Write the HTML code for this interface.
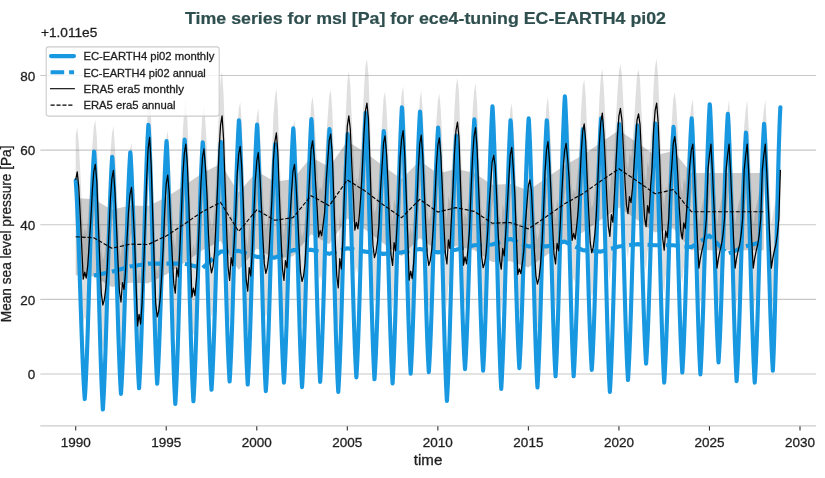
<!DOCTYPE html>
<html><head><meta charset="utf-8"><title>Time series msl</title>
<style>
html,body{margin:0;padding:0;background:#fff;}
body{width:825px;height:478px;overflow:hidden;position:relative;}
svg{position:absolute;left:0;top:0;display:block;will-change:transform;}
text{font-family:"Liberation Sans",sans-serif;fill:#1f1f1f;stroke:#1f1f1f;stroke-width:0.3px;}
#ttl{stroke:#2f4f4f;stroke-width:0.2px;}
</style></head><body>
<svg width="825" height="478" viewBox="0 0 825 478">
<rect width="825" height="478" fill="#fff"/>
<g stroke="#c8c8c8" stroke-width="1.1"><line x1="40.3" x2="816" y1="374.06" y2="374.06"/><line x1="40.3" x2="816" y1="299.41" y2="299.41"/><line x1="40.3" x2="816" y1="224.76" y2="224.76"/><line x1="40.3" x2="816" y1="150.11" y2="150.11"/><line x1="40.3" x2="816" y1="75.46" y2="75.46"/></g>
<path d="M75.70,135.55 L77.21,127.34 L78.72,141.92 L80.23,170.21 L81.74,202.29 L83.24,234.80 L84.75,227.83 L86.26,233.64 L87.77,220.87 L89.28,198.18 L90.79,175.93 L92.30,146.50 L93.81,126.84 L95.32,119.88 L96.83,137.32 L98.33,179.22 L99.84,216.97 L101.35,249.33 L102.86,260.59 L104.37,255.20 L105.88,243.08 L107.39,221.40 L108.90,189.27 L110.41,154.00 L111.92,133.93 L113.42,125.85 L114.93,146.92 L116.44,180.46 L117.95,216.76 L119.46,247.07 L120.97,257.61 L122.48,238.13 L123.99,245.00 L125.50,228.35 L127.00,195.02 L128.51,167.50 L130.02,149.89 L131.53,143.02 L133.04,165.71 L134.55,194.48 L136.06,239.85 L137.57,281.46 L139.08,270.04 L140.59,279.55 L142.09,258.61 L143.60,223.65 L145.11,182.88 L146.62,135.66 L148.13,104.42 L149.64,93.00 L151.15,119.67 L152.66,169.52 L154.17,216.88 L155.67,258.17 L157.18,272.54 L158.69,266.86 L160.20,254.10 L161.71,231.13 L163.22,203.06 L164.73,166.33 L166.24,139.21 L167.75,130.70 L169.26,148.54 L170.76,182.44 L172.27,212.08 L173.78,239.21 L175.29,248.65 L176.80,223.33 L178.31,232.27 L179.82,205.81 L181.33,171.78 L182.84,130.65 L184.35,108.66 L185.85,99.72 L187.36,119.62 L188.87,160.17 L190.38,206.34 L191.89,252.75 L193.40,243.77 L194.91,251.25 L196.42,234.79 L197.93,210.84 L199.43,174.84 L200.94,139.41 L202.45,113.55 L203.96,104.57 L205.47,122.84 L206.98,149.31 L208.49,190.08 L210.00,218.58 L211.51,228.49 L213.02,222.21 L214.52,208.06 L216.03,178.11 L217.54,143.48 L219.05,105.48 L220.56,80.78 L222.07,71.35 L223.58,94.55 L225.09,139.82 L226.60,184.93 L228.10,222.79 L229.61,235.96 L231.12,213.18 L232.63,221.22 L234.14,199.15 L235.65,170.45 L237.16,130.20 L238.67,110.00 L240.18,101.96 L241.69,121.75 L243.19,156.53 L244.70,201.89 L246.21,235.20 L247.72,246.78 L249.23,223.24 L250.74,231.55 L252.25,207.73 L253.76,170.33 L255.27,136.78 L256.78,116.61 L258.28,108.31 L259.79,128.83 L261.30,159.35 L262.81,191.49 L264.32,219.22 L265.83,228.87 L267.34,223.25 L268.85,210.62 L270.36,184.19 L271.86,156.18 L273.37,116.14 L274.88,96.94 L276.39,88.52 L277.90,108.69 L279.41,151.64 L280.92,190.25 L282.43,224.16 L283.94,235.96 L285.45,216.22 L286.95,223.19 L288.46,201.04 L289.97,172.89 L291.48,148.81 L292.99,126.84 L294.50,119.88 L296.01,139.12 L297.52,168.38 L299.03,200.75 L300.53,227.70 L302.04,237.08 L303.55,231.45 L305.06,218.78 L306.57,191.77 L308.08,161.40 L309.59,132.43 L311.10,104.80 L312.61,96.36 L314.12,111.44 L315.62,139.05 L317.13,163.32 L318.64,192.37 L320.15,186.14 L321.66,191.33 L323.17,179.92 L324.68,167.59 L326.19,136.57 L327.70,116.64 L329.21,95.87 L330.71,89.64 L332.22,109.06 L333.73,151.67 L335.24,195.75 L336.75,231.12 L338.26,243.42 L339.77,214.17 L341.28,224.49 L342.79,196.52 L344.29,151.70 L345.80,114.51 L347.31,81.68 L348.82,71.35 L350.33,85.00 L351.84,121.36 L353.35,151.19 L354.86,185.78 L356.37,178.07 L357.88,184.49 L359.38,170.37 L360.89,150.60 L362.40,123.08 L363.91,90.43 L365.42,66.37 L366.93,58.66 L368.44,74.18 L369.95,117.53 L371.46,165.29 L372.96,200.83 L374.47,213.19 L375.98,208.32 L377.49,197.37 L379.00,179.80 L380.51,146.18 L382.02,122.30 L383.53,98.81 L385.04,91.51 L386.55,109.37 L388.05,139.88 L389.56,180.88 L391.07,210.67 L392.58,221.03 L394.09,198.12 L395.60,206.21 L397.11,180.58 L398.62,154.84 L400.13,112.53 L401.64,94.37 L403.14,86.28 L404.65,108.67 L406.16,148.95 L407.67,190.33 L409.18,235.61 L410.69,226.84 L412.20,234.15 L413.71,218.06 L415.22,192.00 L416.72,162.65 L418.23,126.39 L419.74,99.54 L421.25,90.76 L422.76,111.84 L424.27,146.85 L425.78,180.65 L427.29,210.61 L428.80,221.03 L430.31,215.92 L431.81,204.43 L433.32,183.21 L434.83,157.14 L436.34,121.75 L437.85,101.04 L439.36,93.38 L440.87,111.02 L442.38,144.29 L443.89,180.43 L445.39,209.44 L446.90,219.53 L448.41,195.42 L449.92,203.93 L451.43,173.95 L452.94,145.94 L454.45,109.60 L455.96,86.21 L457.47,77.70 L458.98,92.92 L460.48,138.56 L461.99,177.37 L463.50,220.76 L465.01,212.43 L466.52,219.37 L468.03,204.10 L469.54,185.24 L471.05,145.98 L472.56,112.15 L474.06,91.63 L475.57,83.30 L477.08,103.93 L478.59,142.30 L480.10,179.88 L481.61,212.07 L483.12,223.27 L484.63,218.77 L486.14,208.66 L487.65,188.36 L489.15,160.57 L490.66,139.70 L492.17,117.66 L493.68,110.92 L495.19,121.35 L496.70,152.75 L498.21,189.47 L499.72,215.65 L501.23,224.76 L502.74,204.07 L504.24,211.38 L505.75,188.47 L507.26,162.25 L508.77,134.91 L510.28,110.38 L511.79,103.08 L513.30,124.20 L514.81,149.80 L516.32,191.42 L517.82,230.15 L519.33,224.42 L520.84,229.19 L522.35,218.68 L523.86,205.93 L525.37,179.43 L526.88,159.89 L528.39,141.29 L529.90,135.55 L531.41,145.95 L532.91,176.27 L534.42,207.41 L535.93,231.36 L537.44,239.69 L538.95,233.99 L540.46,221.15 L541.97,200.35 L543.48,168.70 L544.99,127.76 L546.50,105.66 L548.00,97.11 L549.51,117.21 L551.02,148.71 L552.53,181.58 L554.04,209.74 L555.55,219.53 L557.06,199.04 L558.57,206.27 L560.08,184.00 L561.58,153.42 L563.09,125.59 L564.60,106.21 L566.11,98.97 L567.62,113.87 L569.13,134.19 L570.64,166.71 L572.15,195.96 L573.66,188.91 L575.17,194.79 L576.67,181.85 L578.18,165.92 L579.69,140.69 L581.20,108.85 L582.71,86.62 L584.22,79.57 L585.73,96.83 L587.24,135.34 L588.75,168.42 L590.25,198.04 L591.76,208.34 L593.27,202.75 L594.78,190.19 L596.29,171.00 L597.80,137.02 L599.31,100.15 L600.82,77.12 L602.33,68.74 L603.84,88.33 L605.34,119.35 L606.85,153.73 L608.36,182.06 L609.87,191.91 L611.38,170.15 L612.89,177.83 L614.40,150.99 L615.91,120.68 L617.42,91.81 L618.93,71.57 L620.43,63.89 L621.94,75.72 L623.45,105.17 L624.96,136.52 L626.47,160.73 L627.98,169.15 L629.49,152.20 L631.00,158.18 L632.51,143.74 L634.01,121.84 L635.52,97.09 L637.03,75.47 L638.54,69.49 L640.05,80.16 L641.56,112.63 L643.07,147.27 L644.58,173.19 L646.09,182.21 L647.60,161.21 L649.10,168.62 L650.61,141.89 L652.12,122.61 L653.63,85.76 L655.14,66.08 L656.65,58.66 L658.16,77.95 L659.67,115.25 L661.18,160.14 L662.68,193.96 L664.19,205.72 L665.70,186.43 L667.21,193.24 L668.72,174.58 L670.23,141.87 L671.74,122.48 L673.25,99.06 L674.76,92.26 L676.27,105.10 L677.77,130.86 L679.28,162.82 L680.79,186.35 L682.30,194.53 L683.81,178.41 L685.32,184.10 L686.83,163.15 L688.34,142.93 L689.85,119.55 L691.36,105.41 L692.86,99.72 L694.37,128.22 L695.88,161.68 L697.39,195.14 L698.90,223.64 L700.41,213.73 L701.92,206.29 L703.43,200.10 L704.94,190.18 L706.44,174.07 L707.95,125.74 L709.46,110.87 L710.97,99.72 L712.48,128.22 L713.99,161.68 L715.50,195.14 L717.01,223.64 L718.52,213.73 L720.03,206.29 L721.53,200.10 L723.04,190.18 L724.55,174.07 L726.06,125.74 L727.57,110.87 L729.08,99.72 L730.59,128.22 L732.10,161.68 L733.61,195.14 L735.11,223.64 L736.62,213.73 L738.13,206.29 L739.64,200.10 L741.15,190.18 L742.66,174.07 L744.17,125.74 L745.68,110.87 L747.19,99.72 L748.70,128.22 L750.20,161.68 L751.71,195.14 L753.22,223.64 L754.73,213.73 L756.24,206.29 L757.75,200.10 L759.26,190.18 L760.77,174.07 L762.28,125.74 L763.79,110.87 L765.29,99.72 L766.80,128.22 L768.31,161.68 L769.82,195.14 L771.33,223.64 L772.84,213.73 L774.35,206.29 L775.86,200.10 L777.37,190.18 L778.87,174.07 L780.38,125.48 L780.38,214.31 L778.87,262.91 L777.37,279.02 L775.86,288.93 L774.35,295.13 L772.84,302.56 L771.33,312.47 L769.82,283.97 L768.31,250.51 L766.80,217.06 L765.29,188.55 L763.79,199.71 L762.28,214.58 L760.77,262.91 L759.26,279.02 L757.75,288.93 L756.24,295.13 L754.73,302.56 L753.22,312.47 L751.71,283.97 L750.20,250.51 L748.70,217.06 L747.19,188.55 L745.68,199.71 L744.17,214.58 L742.66,262.91 L741.15,279.02 L739.64,288.93 L738.13,295.13 L736.62,302.56 L735.11,312.47 L733.61,283.97 L732.10,250.51 L730.59,217.06 L729.08,188.55 L727.57,199.71 L726.06,214.58 L724.55,262.91 L723.04,279.02 L721.53,288.93 L720.03,295.13 L718.52,302.56 L717.01,312.47 L715.50,283.97 L713.99,250.51 L712.48,217.06 L710.97,188.55 L709.46,199.71 L707.95,214.58 L706.44,262.91 L704.94,279.02 L703.43,288.93 L701.92,295.13 L700.41,302.56 L698.90,312.47 L697.39,283.97 L695.88,250.51 L694.37,217.06 L692.86,188.55 L691.36,194.24 L689.85,208.38 L688.34,231.76 L686.83,251.98 L685.32,272.93 L683.81,267.24 L682.30,283.36 L680.79,275.18 L679.28,251.66 L677.77,219.70 L676.27,193.94 L674.76,181.09 L673.25,187.90 L671.74,211.31 L670.23,230.71 L668.72,263.41 L667.21,282.08 L665.70,275.27 L664.19,294.56 L662.68,282.79 L661.18,248.97 L659.67,204.08 L658.16,166.79 L656.65,147.50 L655.14,154.91 L653.63,174.59 L652.12,211.45 L650.61,230.72 L649.10,257.45 L647.60,250.04 L646.09,271.04 L644.58,262.03 L643.07,236.10 L641.56,201.46 L640.05,168.99 L638.54,158.32 L637.03,164.30 L635.52,185.92 L634.01,210.67 L632.51,232.57 L631.00,247.02 L629.49,241.04 L627.98,257.98 L626.47,249.56 L624.96,225.35 L623.45,194.01 L621.94,164.55 L620.43,152.72 L618.93,160.40 L617.42,180.65 L615.91,209.51 L614.40,239.83 L612.89,266.66 L611.38,258.98 L609.87,280.75 L608.36,270.89 L606.85,242.56 L605.34,208.18 L603.84,177.16 L602.33,157.57 L600.82,165.95 L599.31,188.98 L597.80,225.85 L596.29,259.83 L594.78,279.02 L593.27,291.59 L591.76,297.17 L590.25,286.87 L588.75,257.25 L587.24,224.17 L585.73,185.67 L584.22,168.40 L582.71,175.45 L581.20,197.68 L579.69,229.53 L578.18,254.75 L576.67,270.69 L575.17,283.62 L573.66,277.74 L572.15,284.80 L570.64,255.54 L569.13,223.02 L567.62,202.70 L566.11,187.81 L564.60,195.04 L563.09,214.43 L561.58,242.26 L560.08,272.83 L558.57,295.11 L557.06,287.87 L555.55,308.37 L554.04,298.57 L552.53,270.42 L551.02,237.55 L549.51,206.04 L548.00,185.94 L546.50,194.50 L544.99,216.60 L543.48,257.53 L541.97,289.18 L540.46,309.99 L538.95,322.82 L537.44,328.52 L535.93,320.19 L534.42,296.24 L532.91,265.11 L531.41,234.78 L529.90,224.39 L528.39,230.12 L526.88,248.72 L525.37,268.27 L523.86,294.77 L522.35,307.52 L520.84,318.03 L519.33,313.25 L517.82,318.98 L516.32,280.25 L514.81,238.63 L513.30,213.03 L511.79,191.91 L510.28,199.21 L508.77,223.74 L507.26,251.08 L505.75,277.30 L504.24,300.21 L502.74,292.91 L501.23,313.59 L499.72,304.49 L498.21,278.30 L496.70,241.58 L495.19,210.18 L493.68,199.75 L492.17,206.49 L490.66,228.54 L489.15,249.41 L487.65,277.20 L486.14,297.50 L484.63,307.61 L483.12,312.10 L481.61,300.90 L480.10,268.71 L478.59,231.13 L477.08,192.76 L475.57,172.13 L474.06,180.46 L472.56,200.98 L471.05,234.82 L469.54,274.07 L468.03,292.93 L466.52,308.20 L465.01,301.26 L463.50,309.59 L461.99,266.20 L460.48,227.39 L458.98,181.75 L457.47,166.53 L455.96,175.04 L454.45,198.43 L452.94,234.77 L451.43,262.78 L449.92,292.77 L448.41,284.26 L446.90,308.37 L445.39,298.28 L443.89,269.26 L442.38,233.13 L440.87,199.86 L439.36,182.21 L437.85,189.87 L436.34,210.59 L434.83,245.98 L433.32,272.04 L431.81,293.27 L430.31,304.75 L428.80,309.86 L427.29,299.44 L425.78,269.48 L424.27,235.68 L422.76,200.67 L421.25,179.60 L419.74,188.38 L418.23,215.23 L416.72,251.49 L415.22,280.83 L413.71,306.89 L412.20,322.98 L410.69,315.67 L409.18,324.45 L407.67,279.16 L406.16,237.78 L404.65,197.50 L403.14,175.12 L401.64,183.20 L400.13,201.36 L398.62,243.67 L397.11,269.41 L395.60,295.04 L394.09,286.95 L392.58,309.86 L391.07,299.50 L389.56,269.71 L388.05,228.71 L386.55,198.21 L385.04,180.34 L383.53,187.64 L382.02,211.14 L380.51,235.01 L379.00,268.64 L377.49,286.20 L375.98,297.16 L374.47,302.02 L372.96,289.66 L371.46,254.12 L369.95,206.36 L368.44,163.02 L366.93,147.50 L365.42,155.20 L363.91,179.26 L362.40,211.91 L360.89,239.43 L359.38,259.20 L357.88,273.33 L356.37,266.91 L354.86,274.61 L353.35,240.03 L351.84,210.19 L350.33,173.84 L348.82,160.19 L347.31,170.51 L345.80,203.34 L344.29,240.53 L342.79,285.36 L341.28,313.33 L339.77,303.00 L338.26,332.26 L336.75,319.95 L335.24,284.58 L333.73,240.50 L332.22,197.89 L330.71,178.48 L329.21,184.70 L327.70,205.47 L326.19,225.40 L324.68,256.42 L323.17,268.75 L321.66,280.17 L320.15,274.98 L318.64,281.20 L317.13,252.16 L315.62,227.89 L314.12,200.27 L312.61,185.20 L311.10,193.64 L309.59,221.27 L308.08,250.23 L306.57,280.60 L305.06,307.62 L303.55,320.28 L302.04,325.91 L300.53,316.53 L299.03,289.58 L297.52,257.22 L296.01,227.95 L294.50,208.71 L292.99,215.68 L291.48,237.64 L289.97,261.73 L288.46,289.87 L286.95,312.02 L285.45,305.06 L283.94,324.79 L282.43,313.00 L280.92,279.09 L279.41,240.47 L277.90,197.52 L276.39,177.36 L274.88,185.78 L273.37,204.97 L271.86,245.01 L270.36,273.02 L268.85,299.45 L267.34,312.09 L265.83,317.70 L264.32,308.05 L262.81,280.33 L261.30,248.18 L259.79,217.66 L258.28,197.14 L256.78,205.45 L255.27,225.62 L253.76,259.16 L252.25,296.56 L250.74,320.38 L249.23,312.07 L247.72,335.62 L246.21,324.03 L244.70,290.72 L243.19,245.36 L241.69,210.59 L240.18,190.79 L238.67,198.83 L237.16,219.03 L235.65,259.28 L234.14,287.98 L232.63,310.05 L231.12,302.01 L229.61,324.79 L228.10,311.62 L226.60,273.76 L225.09,228.65 L223.58,183.38 L222.07,160.19 L220.56,169.62 L219.05,194.31 L217.54,232.31 L216.03,266.95 L214.52,296.90 L213.02,311.04 L211.51,317.33 L210.00,307.41 L208.49,278.91 L206.98,238.15 L205.47,211.67 L203.96,193.41 L202.45,202.39 L200.94,228.25 L199.43,263.67 L197.93,299.68 L196.42,323.62 L194.91,340.09 L193.40,332.60 L191.89,341.58 L190.38,295.18 L188.87,249.00 L187.36,208.46 L185.85,188.55 L184.35,197.49 L182.84,219.48 L181.33,260.62 L179.82,294.64 L178.31,321.10 L176.80,312.16 L175.29,337.48 L173.78,328.05 L172.27,300.92 L170.76,271.27 L169.26,237.37 L167.75,219.53 L166.24,228.04 L164.73,255.16 L163.22,291.89 L161.71,319.96 L160.20,342.93 L158.69,355.70 L157.18,361.37 L155.67,347.01 L154.17,305.71 L152.66,258.36 L151.15,208.50 L149.64,181.84 L148.13,193.26 L146.62,224.50 L145.11,271.71 L143.60,312.48 L142.09,347.45 L140.59,368.39 L139.08,358.87 L137.57,370.29 L136.06,328.69 L134.55,283.31 L133.04,254.54 L131.53,231.85 L130.02,238.73 L128.51,256.33 L127.00,283.85 L125.50,317.18 L123.99,333.83 L122.48,326.96 L120.97,346.44 L119.46,335.90 L117.95,305.59 L116.44,269.29 L114.93,235.75 L113.42,214.68 L111.92,222.77 L110.41,242.83 L108.90,278.10 L107.39,310.23 L105.88,331.91 L104.37,344.04 L102.86,349.43 L101.35,338.17 L99.84,305.80 L98.33,268.06 L96.83,226.16 L95.32,208.71 L93.81,215.68 L92.30,235.33 L90.79,264.76 L89.28,287.01 L87.77,309.70 L86.26,322.47 L84.75,316.67 L83.24,323.63 L81.74,291.12 L80.23,259.04 L78.72,230.76 L77.21,216.18 L75.70,224.39Z" fill="#808080" fill-opacity="0.25"/>
<path d="M75.70,198.07 L93.81,199.19 L111.92,209.64 L130.02,205.54 L148.13,205.91 L166.24,197.33 L184.35,185.38 L202.45,173.06 L220.56,163.73 L238.67,192.85 L256.78,171.20 L274.88,181.65 L292.99,179.04 L311.10,157.02 L329.21,167.09 L347.31,141.34 L365.42,152.54 L383.53,166.35 L401.64,179.04 L419.74,160.75 L437.85,173.44 L455.96,168.96 L474.06,172.69 L492.17,184.64 L510.28,183.89 L528.39,190.23 L546.50,177.92 L564.60,165.23 L582.71,155.15 L600.82,142.46 L618.93,130.14 L637.03,142.46 L655.14,155.15 L673.25,151.04 L691.36,173.06 L709.46,173.06 L727.57,173.06 L745.68,173.06 L763.79,173.06 L763.79,250.33 L745.68,250.33 L727.57,250.33 L709.46,250.33 L691.36,250.33 L673.25,228.31 L655.14,232.41 L637.03,219.72 L618.93,207.40 L600.82,219.72 L582.71,232.41 L564.60,242.49 L546.50,255.18 L528.39,267.50 L510.28,261.15 L492.17,261.90 L474.06,249.95 L455.96,246.22 L437.85,250.70 L419.74,238.01 L401.64,256.30 L383.53,243.61 L365.42,229.80 L347.31,218.60 L329.21,244.36 L311.10,234.28 L292.99,256.30 L274.88,258.91 L256.78,248.46 L238.67,270.11 L220.56,241.00 L202.45,250.33 L184.35,262.64 L166.24,274.59 L148.13,283.17 L130.02,282.80 L111.92,286.91 L93.81,276.46 L75.70,275.34Z" fill="#000" fill-opacity="0.2"/>
<path d="M75.70,180.37 L75.95,183.88 L76.20,187.78 L76.45,192.07 L76.71,196.75 L76.96,201.80 L77.21,207.20 L77.46,212.95 L77.71,219.01 L77.96,225.37 L78.21,232.01 L78.47,238.89 L78.72,245.98 L78.97,253.27 L79.22,260.71 L79.47,268.27 L79.72,275.93 L79.98,283.64 L80.23,291.37 L80.48,299.09 L80.73,306.76 L80.98,314.36 L81.23,321.84 L81.48,329.17 L81.74,336.32 L81.99,343.26 L82.24,349.97 L82.49,356.41 L82.74,362.56 L82.99,368.39 L83.24,373.90 L83.50,379.05 L83.75,383.83 L84.00,388.23 L84.25,392.24 L84.50,395.86 L84.75,399.07 L85.01,395.51 L85.26,391.52 L85.51,387.10 L85.76,382.24 L86.01,376.97 L86.26,371.30 L86.51,365.25 L86.77,358.82 L87.02,352.06 L87.27,344.97 L87.52,337.59 L87.77,329.94 L88.02,322.06 L88.27,313.98 L88.53,305.73 L88.78,297.35 L89.03,288.87 L89.28,280.33 L89.53,271.76 L89.78,263.21 L90.04,254.71 L90.29,246.29 L90.54,238.00 L90.79,229.86 L91.04,221.92 L91.29,214.20 L91.54,206.74 L91.80,199.56 L92.05,192.70 L92.30,186.17 L92.55,180.00 L92.80,174.21 L93.05,168.82 L93.30,163.85 L93.56,159.29 L93.81,155.17 L94.06,151.49 L94.31,153.24 L94.56,157.61 L94.81,162.51 L95.06,167.91 L95.32,173.82 L95.57,180.21 L95.82,187.07 L96.07,194.36 L96.32,202.05 L96.57,210.12 L96.83,218.53 L97.08,227.24 L97.33,236.20 L97.58,245.39 L97.83,254.74 L98.08,264.23 L98.33,273.79 L98.59,283.38 L98.84,292.95 L99.09,302.46 L99.34,311.86 L99.59,321.10 L99.84,330.14 L100.09,338.93 L100.35,347.43 L100.60,355.60 L100.85,363.41 L101.10,370.82 L101.35,377.81 L101.60,384.34 L101.86,390.39 L102.11,395.95 L102.36,401.00 L102.61,405.52 L102.86,409.52 L103.11,405.89 L103.36,401.82 L103.62,397.30 L103.87,392.34 L104.12,386.96 L104.37,381.17 L104.62,374.99 L104.87,368.43 L105.12,361.52 L105.38,354.28 L105.63,346.75 L105.88,338.94 L106.13,330.89 L106.38,322.64 L106.63,314.22 L106.89,305.66 L107.14,297.00 L107.39,288.28 L107.64,279.53 L107.89,270.80 L108.14,262.12 L108.39,253.53 L108.65,245.06 L108.90,236.76 L109.15,228.65 L109.40,220.77 L109.65,213.15 L109.90,205.82 L110.15,198.81 L110.41,192.14 L110.66,185.85 L110.91,179.94 L111.16,174.44 L111.41,169.35 L111.66,164.70 L111.92,160.50 L112.17,156.74 L112.42,158.24 L112.67,162.26 L112.92,166.76 L113.17,171.73 L113.42,177.16 L113.68,183.04 L113.93,189.34 L114.18,196.04 L114.43,203.12 L114.68,210.53 L114.93,218.26 L115.18,226.27 L115.44,234.51 L115.69,242.95 L115.94,251.56 L116.19,260.27 L116.44,269.06 L116.69,277.88 L116.94,286.68 L117.20,295.43 L117.45,304.06 L117.70,312.56 L117.95,320.87 L118.20,328.95 L118.45,336.76 L118.71,344.27 L118.96,351.45 L119.21,358.27 L119.46,364.69 L119.71,370.69 L119.96,376.26 L120.21,381.37 L120.47,386.01 L120.72,390.17 L120.97,393.84 L121.22,390.37 L121.47,386.48 L121.72,382.16 L121.97,377.42 L122.23,372.28 L122.48,366.74 L122.73,360.83 L122.98,354.56 L123.23,347.96 L123.48,341.04 L123.74,333.84 L123.99,326.38 L124.24,318.69 L124.49,310.80 L124.74,302.75 L124.99,294.57 L125.24,286.29 L125.50,277.95 L125.75,269.59 L126.00,261.25 L126.25,252.95 L126.50,244.73 L126.75,236.64 L127.00,228.70 L127.26,220.95 L127.51,213.42 L127.76,206.13 L128.01,199.13 L128.26,192.43 L128.51,186.06 L128.77,180.04 L129.02,174.39 L129.27,169.13 L129.52,164.27 L129.77,159.83 L130.02,155.81 L130.27,152.21 L130.53,153.75 L130.78,157.75 L131.03,162.23 L131.28,167.18 L131.53,172.58 L131.78,178.43 L132.03,184.70 L132.29,191.37 L132.54,198.41 L132.79,205.80 L133.04,213.49 L133.29,221.46 L133.54,229.66 L133.79,238.07 L134.05,246.63 L134.30,255.30 L134.55,264.05 L134.80,272.83 L135.05,281.59 L135.30,290.29 L135.56,298.89 L135.81,307.34 L136.06,315.61 L136.31,323.65 L136.56,331.43 L136.81,338.91 L137.06,346.05 L137.32,352.84 L137.57,359.23 L137.82,365.20 L138.07,370.74 L138.32,375.83 L138.57,380.45 L138.82,384.59 L139.08,388.24 L139.33,384.46 L139.58,380.21 L139.83,375.50 L140.08,370.33 L140.33,364.72 L140.59,358.69 L140.84,352.24 L141.09,345.40 L141.34,338.20 L141.59,330.65 L141.84,322.79 L142.09,314.65 L142.35,306.27 L142.60,297.66 L142.85,288.88 L143.10,279.96 L143.35,270.93 L143.60,261.83 L143.85,252.72 L144.11,243.61 L144.36,234.56 L144.61,225.60 L144.86,216.77 L145.11,208.11 L145.36,199.66 L145.62,191.44 L145.87,183.50 L146.12,175.86 L146.37,168.55 L146.62,161.60 L146.87,155.03 L147.12,148.87 L147.38,143.14 L147.63,137.84 L147.88,132.99 L148.13,128.60 L148.38,124.68 L148.63,126.38 L148.88,130.77 L149.14,135.68 L149.39,141.11 L149.64,147.05 L149.89,153.47 L150.14,160.35 L150.39,167.67 L150.64,175.40 L150.90,183.50 L151.15,191.95 L151.40,200.69 L151.65,209.70 L151.90,218.92 L152.15,228.32 L152.41,237.84 L152.66,247.45 L152.91,257.08 L153.16,266.69 L153.41,276.25 L153.66,285.68 L153.91,294.96 L154.17,304.04 L154.42,312.87 L154.67,321.40 L154.92,329.61 L155.17,337.46 L155.42,344.90 L155.67,351.92 L155.93,358.47 L156.18,364.55 L156.43,370.14 L156.68,375.21 L156.93,379.75 L157.18,383.76 L157.44,380.28 L157.69,376.37 L157.94,372.03 L158.19,367.27 L158.44,362.10 L158.69,356.54 L158.94,350.60 L159.20,344.30 L159.45,337.67 L159.70,330.72 L159.95,323.48 L160.20,315.99 L160.45,308.26 L160.70,300.34 L160.96,292.25 L161.21,284.03 L161.46,275.71 L161.71,267.34 L161.96,258.94 L162.21,250.56 L162.47,242.22 L162.72,233.97 L162.97,225.84 L163.22,217.86 L163.47,210.07 L163.72,202.51 L163.97,195.19 L164.23,188.15 L164.48,181.42 L164.73,175.02 L164.98,168.97 L165.23,163.30 L165.48,158.02 L165.73,153.14 L165.99,148.67 L166.24,144.63 L166.49,141.02 L166.74,142.84 L166.99,147.29 L167.24,152.28 L167.49,157.79 L167.75,163.81 L168.00,170.32 L168.25,177.30 L168.50,184.73 L168.75,192.57 L169.00,200.79 L169.26,209.35 L169.51,218.22 L169.76,227.36 L170.01,236.71 L170.26,246.25 L170.51,255.90 L170.76,265.64 L171.02,275.42 L171.27,285.17 L171.52,294.86 L171.77,304.43 L172.02,313.85 L172.27,323.05 L172.52,332.01 L172.78,340.67 L173.03,348.99 L173.28,356.95 L173.53,364.50 L173.78,371.61 L174.03,378.27 L174.29,384.43 L174.54,390.10 L174.79,395.24 L175.04,399.85 L175.29,403.92 L175.54,400.13 L175.79,395.87 L176.05,391.14 L176.30,385.96 L176.55,380.33 L176.80,374.28 L177.05,367.81 L177.30,360.96 L177.55,353.73 L177.81,346.16 L178.06,338.28 L178.31,330.12 L178.56,321.71 L178.81,313.08 L179.06,304.28 L179.32,295.33 L179.57,286.27 L179.82,277.15 L180.07,268.01 L180.32,258.88 L180.57,249.80 L180.82,240.82 L181.08,231.97 L181.33,223.28 L181.58,214.80 L181.83,206.56 L182.08,198.60 L182.33,190.93 L182.58,183.61 L182.84,176.64 L183.09,170.05 L183.34,163.87 L183.59,158.12 L183.84,152.81 L184.09,147.94 L184.35,143.55 L184.60,139.61 L184.85,141.34 L185.10,145.77 L185.35,150.73 L185.60,156.22 L185.85,162.21 L186.11,168.70 L186.36,175.65 L186.61,183.04 L186.86,190.85 L187.11,199.04 L187.36,207.56 L187.61,216.40 L187.87,225.49 L188.12,234.81 L188.37,244.30 L188.62,253.92 L188.87,263.62 L189.12,273.35 L189.37,283.06 L189.63,292.71 L189.88,302.24 L190.13,311.62 L190.38,320.78 L190.63,329.70 L190.88,338.32 L191.14,346.61 L191.39,354.53 L191.64,362.05 L191.89,369.14 L192.14,375.76 L192.39,381.90 L192.64,387.54 L192.90,392.66 L193.15,397.25 L193.40,401.31 L193.65,397.59 L193.90,393.41 L194.15,388.78 L194.40,383.70 L194.66,378.19 L194.91,372.25 L195.16,365.91 L195.41,359.19 L195.66,352.11 L195.91,344.69 L196.17,336.96 L196.42,328.96 L196.67,320.72 L196.92,312.26 L197.17,303.63 L197.42,294.85 L197.67,285.98 L197.93,277.04 L198.18,268.07 L198.43,259.12 L198.68,250.23 L198.93,241.42 L199.18,232.74 L199.43,224.23 L199.69,215.91 L199.94,207.84 L200.19,200.03 L200.44,192.51 L200.69,185.33 L200.94,178.50 L201.20,172.04 L201.45,165.99 L201.70,160.35 L201.95,155.14 L202.20,150.37 L202.45,146.06 L202.70,142.20 L202.96,143.80 L203.21,147.99 L203.46,152.69 L203.71,157.88 L203.96,163.55 L204.21,169.68 L204.46,176.26 L204.72,183.25 L204.97,190.64 L205.22,198.38 L205.47,206.45 L205.72,214.81 L205.97,223.41 L206.22,232.23 L206.48,241.21 L206.73,250.30 L206.98,259.48 L207.23,268.68 L207.48,277.87 L207.73,287.00 L207.99,296.02 L208.24,304.89 L208.49,313.56 L208.74,321.99 L208.99,330.15 L209.24,337.99 L209.49,345.49 L209.75,352.60 L210.00,359.30 L210.25,365.57 L210.50,371.38 L210.75,376.71 L211.00,381.56 L211.25,385.90 L211.51,389.74 L211.76,386.18 L212.01,382.18 L212.26,377.75 L212.51,372.89 L212.76,367.61 L213.02,361.93 L213.27,355.86 L213.52,349.43 L213.77,342.65 L214.02,335.56 L214.27,328.16 L214.52,320.51 L214.78,312.61 L215.03,304.52 L215.28,296.26 L215.53,287.86 L215.78,279.37 L216.03,270.82 L216.28,262.24 L216.54,253.67 L216.79,245.16 L217.04,236.73 L217.29,228.42 L217.54,220.28 L217.79,212.32 L218.05,204.59 L218.30,197.12 L218.55,189.93 L218.80,183.06 L219.05,176.52 L219.30,170.34 L219.55,164.55 L219.81,159.15 L220.06,154.16 L220.31,149.60 L220.56,145.47 L220.81,141.79 L221.06,143.34 L221.31,147.40 L221.57,151.95 L221.82,156.98 L222.07,162.47 L222.32,168.41 L222.57,174.78 L222.82,181.55 L223.07,188.71 L223.33,196.20 L223.58,204.02 L223.83,212.11 L224.08,220.45 L224.33,228.98 L224.58,237.68 L224.84,246.49 L225.09,255.38 L225.34,264.29 L225.59,273.19 L225.84,282.03 L226.09,290.76 L226.34,299.35 L226.60,307.75 L226.85,315.92 L227.10,323.82 L227.35,331.41 L227.60,338.67 L227.85,345.56 L228.10,352.05 L228.36,358.12 L228.61,363.75 L228.86,368.91 L229.11,373.60 L229.36,377.81 L229.61,381.52 L229.87,377.77 L230.12,373.56 L230.37,368.89 L230.62,363.77 L230.87,358.20 L231.12,352.22 L231.37,345.82 L231.63,339.04 L231.88,331.90 L232.13,324.42 L232.38,316.63 L232.63,308.56 L232.88,300.24 L233.13,291.71 L233.39,283.00 L233.64,274.15 L233.89,265.20 L234.14,256.19 L234.39,247.14 L234.64,238.12 L234.90,229.14 L235.15,220.26 L235.40,211.51 L235.65,202.92 L235.90,194.53 L236.15,186.39 L236.40,178.51 L236.66,170.94 L236.91,163.69 L237.16,156.80 L237.41,150.29 L237.66,144.18 L237.91,138.49 L238.16,133.24 L238.42,128.43 L238.67,124.08 L238.92,120.19 L239.17,121.96 L239.42,126.43 L239.67,131.45 L239.92,136.99 L240.18,143.04 L240.43,149.59 L240.68,156.61 L240.93,164.08 L241.18,171.96 L241.43,180.23 L241.69,188.84 L241.94,197.76 L242.19,206.95 L242.44,216.36 L242.69,225.94 L242.94,235.66 L243.19,245.45 L243.45,255.28 L243.70,265.09 L243.95,274.83 L244.20,284.46 L244.45,293.93 L244.70,303.18 L244.95,312.19 L245.21,320.90 L245.46,329.27 L245.71,337.27 L245.96,344.87 L246.21,352.02 L246.46,358.71 L246.72,364.91 L246.97,370.61 L247.22,375.78 L247.47,380.42 L247.72,384.51 L247.97,380.78 L248.22,376.59 L248.48,371.95 L248.73,366.85 L248.98,361.32 L249.23,355.37 L249.48,349.01 L249.73,342.27 L249.98,335.17 L250.24,327.73 L250.49,319.98 L250.74,311.96 L250.99,303.69 L251.24,295.21 L251.49,286.55 L251.75,277.75 L252.00,268.85 L252.25,259.89 L252.50,250.90 L252.75,241.92 L253.00,233.00 L253.25,224.16 L253.51,215.46 L253.76,206.92 L254.01,198.58 L254.26,190.48 L254.51,182.65 L254.76,175.12 L255.01,167.91 L255.27,161.06 L255.52,154.59 L255.77,148.52 L256.02,142.86 L256.27,137.64 L256.52,132.86 L256.78,128.53 L257.03,124.66 L257.28,126.46 L257.53,130.97 L257.78,136.03 L258.03,141.62 L258.28,147.72 L258.54,154.33 L258.79,161.41 L259.04,168.94 L259.29,176.89 L259.54,185.22 L259.79,193.91 L260.04,202.91 L260.30,212.17 L260.55,221.66 L260.80,231.32 L261.05,241.12 L261.30,251.00 L261.55,260.91 L261.80,270.80 L262.06,280.63 L262.31,290.34 L262.56,299.88 L262.81,309.22 L263.06,318.30 L263.31,327.08 L263.57,335.52 L263.82,343.59 L264.07,351.25 L264.32,358.47 L264.57,365.21 L264.82,371.47 L265.07,377.21 L265.33,382.42 L265.58,387.10 L265.83,391.23 L266.08,387.68 L266.33,383.70 L266.58,379.28 L266.83,374.43 L267.09,369.17 L267.34,363.51 L267.59,357.46 L267.84,351.04 L268.09,344.29 L268.34,337.21 L268.60,329.84 L268.85,322.21 L269.10,314.34 L269.35,306.27 L269.60,298.03 L269.85,289.66 L270.10,281.19 L270.36,272.67 L270.61,264.11 L270.86,255.57 L271.11,247.08 L271.36,238.68 L271.61,230.40 L271.86,222.28 L272.12,214.35 L272.37,206.64 L272.62,199.19 L272.87,192.02 L273.12,185.17 L273.37,178.65 L273.63,172.49 L273.88,166.71 L274.13,161.33 L274.38,156.36 L274.63,151.82 L274.88,147.70 L275.13,144.02 L275.39,145.57 L275.64,149.61 L275.89,154.14 L276.14,159.14 L276.39,164.61 L276.64,170.52 L276.89,176.86 L277.15,183.60 L277.40,190.72 L277.65,198.19 L277.90,205.96 L278.15,214.02 L278.40,222.32 L278.65,230.81 L278.91,239.47 L279.16,248.24 L279.41,257.08 L279.66,265.96 L279.91,274.81 L280.16,283.61 L280.42,292.30 L280.67,300.85 L280.92,309.21 L281.17,317.34 L281.42,325.21 L281.67,332.77 L281.92,339.99 L282.18,346.85 L282.43,353.31 L282.68,359.35 L282.93,364.95 L283.18,370.09 L283.43,374.76 L283.68,378.95 L283.94,382.64 L284.19,379.00 L284.44,374.90 L284.69,370.35 L284.94,365.37 L285.19,359.95 L285.45,354.13 L285.70,347.91 L285.95,341.31 L286.20,334.36 L286.45,327.08 L286.70,319.50 L286.95,311.65 L287.21,303.56 L287.46,295.26 L287.71,286.78 L287.96,278.18 L288.21,269.47 L288.46,260.69 L288.71,251.90 L288.97,243.11 L289.22,234.38 L289.47,225.74 L289.72,217.22 L289.97,208.87 L290.22,200.71 L290.48,192.78 L290.73,185.12 L290.98,177.75 L291.23,170.70 L291.48,163.99 L291.73,157.66 L291.98,151.71 L292.24,146.18 L292.49,141.07 L292.74,136.39 L292.99,132.16 L293.24,128.37 L293.49,130.11 L293.74,134.49 L294.00,139.40 L294.25,144.82 L294.50,150.75 L294.75,157.16 L295.00,164.03 L295.25,171.34 L295.50,179.06 L295.76,187.15 L296.01,195.58 L296.26,204.32 L296.51,213.31 L296.76,222.52 L297.01,231.90 L297.27,241.41 L297.52,251.00 L297.77,260.62 L298.02,270.22 L298.27,279.76 L298.52,289.18 L298.77,298.45 L299.03,307.51 L299.28,316.33 L299.53,324.85 L299.78,333.05 L300.03,340.88 L300.28,348.32 L300.53,355.32 L300.79,361.87 L301.04,367.94 L301.29,373.51 L301.54,378.58 L301.79,383.11 L302.04,387.12 L302.30,383.28 L302.55,378.96 L302.80,374.16 L303.05,368.91 L303.30,363.21 L303.55,357.07 L303.80,350.51 L304.06,343.56 L304.31,336.23 L304.56,328.56 L304.81,320.57 L305.06,312.29 L305.31,303.76 L305.56,295.01 L305.82,286.08 L306.07,277.00 L306.32,267.82 L306.57,258.58 L306.82,249.30 L307.07,240.04 L307.33,230.84 L307.58,221.73 L307.83,212.75 L308.08,203.94 L308.33,195.35 L308.58,186.99 L308.83,178.91 L309.09,171.14 L309.34,163.71 L309.59,156.64 L309.84,149.97 L310.09,143.70 L310.34,137.87 L310.59,132.48 L310.85,127.55 L311.10,123.09 L311.35,119.10 L311.60,120.82 L311.85,125.27 L312.10,130.26 L312.35,135.77 L312.61,141.79 L312.86,148.30 L313.11,155.28 L313.36,162.70 L313.61,170.54 L313.86,178.76 L314.12,187.33 L314.37,196.20 L314.62,205.34 L314.87,214.69 L315.12,224.22 L315.37,233.88 L315.62,243.62 L315.88,253.39 L316.13,263.15 L316.38,272.84 L316.63,282.41 L316.88,291.82 L317.13,301.03 L317.38,309.98 L317.64,318.64 L317.89,326.97 L318.14,334.93 L318.39,342.48 L318.64,349.59 L318.89,356.25 L319.15,362.41 L319.40,368.07 L319.65,373.22 L319.90,377.83 L320.15,381.90 L320.40,378.27 L320.65,374.19 L320.91,369.68 L321.16,364.72 L321.41,359.34 L321.66,353.55 L321.91,347.37 L322.16,340.81 L322.41,333.90 L322.67,326.66 L322.92,319.12 L323.17,311.32 L323.42,303.27 L323.67,295.02 L323.92,286.60 L324.18,278.04 L324.43,269.38 L324.68,260.66 L324.93,251.91 L325.18,243.18 L325.43,234.50 L325.68,225.91 L325.94,217.44 L326.19,209.14 L326.44,201.03 L326.69,193.15 L326.94,185.53 L327.19,178.20 L327.44,171.19 L327.70,164.52 L327.95,158.23 L328.20,152.32 L328.45,146.82 L328.70,141.73 L328.95,137.08 L329.21,132.88 L329.46,129.12 L329.71,130.90 L329.96,135.35 L330.21,140.34 L330.46,145.84 L330.71,151.86 L330.97,158.38 L331.22,165.36 L331.47,172.78 L331.72,180.62 L331.97,188.84 L332.22,197.41 L332.47,206.28 L332.73,215.41 L332.98,224.77 L333.23,234.30 L333.48,243.96 L333.73,253.70 L333.98,263.47 L334.23,273.23 L334.49,282.91 L334.74,292.49 L334.99,301.90 L335.24,311.11 L335.49,320.06 L335.74,328.72 L336.00,337.05 L336.25,345.00 L336.50,352.55 L336.75,359.67 L337.00,366.32 L337.25,372.49 L337.50,378.15 L337.76,383.29 L338.01,387.90 L338.26,391.98 L338.51,388.27 L338.76,384.11 L339.01,379.50 L339.26,374.44 L339.52,368.95 L339.77,363.04 L340.02,356.73 L340.27,350.04 L340.52,342.99 L340.77,335.60 L341.03,327.91 L341.28,319.94 L341.53,311.73 L341.78,303.31 L342.03,294.71 L342.28,285.98 L342.53,277.14 L342.79,268.24 L343.04,259.32 L343.29,250.40 L343.54,241.54 L343.79,232.77 L344.04,224.13 L344.29,215.66 L344.55,207.38 L344.80,199.34 L345.05,191.56 L345.30,184.08 L345.55,176.93 L345.80,170.13 L346.06,163.70 L346.31,157.67 L346.56,152.05 L346.81,146.87 L347.06,142.12 L347.31,137.83 L347.56,133.99 L347.82,135.54 L348.07,139.67 L348.32,144.29 L348.57,149.39 L348.82,154.97 L349.07,161.00 L349.32,167.47 L349.58,174.35 L349.83,181.61 L350.08,189.23 L350.33,197.16 L350.58,205.38 L350.83,213.84 L351.08,222.51 L351.34,231.34 L351.59,240.29 L351.84,249.31 L352.09,258.37 L352.34,267.40 L352.59,276.38 L352.85,285.25 L353.10,293.97 L353.35,302.50 L353.60,310.79 L353.85,318.82 L354.10,326.53 L354.35,333.90 L354.61,340.90 L354.86,347.49 L355.11,353.65 L355.36,359.37 L355.61,364.61 L355.86,369.38 L356.11,373.65 L356.37,377.42 L356.62,373.62 L356.87,369.35 L357.12,364.62 L357.37,359.43 L357.62,353.80 L357.88,347.74 L358.13,341.26 L358.38,334.39 L358.63,327.16 L358.88,319.58 L359.13,311.69 L359.38,303.52 L359.64,295.09 L359.89,286.45 L360.14,277.64 L360.39,268.67 L360.64,259.61 L360.89,250.48 L361.14,241.32 L361.40,232.18 L361.65,223.09 L361.90,214.09 L362.15,205.22 L362.40,196.53 L362.65,188.04 L362.91,179.78 L363.16,171.81 L363.41,164.13 L363.66,156.79 L363.91,149.82 L364.16,143.22 L364.41,137.04 L364.67,131.27 L364.92,125.95 L365.17,121.08 L365.42,116.68 L365.67,112.74 L365.92,114.52 L366.17,119.03 L366.43,124.09 L366.68,129.67 L366.93,135.78 L367.18,142.38 L367.43,149.46 L367.68,156.99 L367.93,164.94 L368.19,173.28 L368.44,181.96 L368.69,190.96 L368.94,200.23 L369.19,209.71 L369.44,219.38 L369.70,229.18 L369.95,239.05 L370.20,248.96 L370.45,258.86 L370.70,268.68 L370.95,278.39 L371.20,287.94 L371.46,297.27 L371.71,306.35 L371.96,315.14 L372.21,323.58 L372.46,331.65 L372.71,339.31 L372.96,346.52 L373.22,353.27 L373.47,359.52 L373.72,365.27 L373.97,370.48 L374.22,375.16 L374.47,379.29 L374.73,375.72 L374.98,371.72 L375.23,367.28 L375.48,362.41 L375.73,357.13 L375.98,351.44 L376.23,345.36 L376.49,338.92 L376.74,332.13 L376.99,325.02 L377.24,317.62 L377.49,309.95 L377.74,302.05 L377.99,293.94 L378.25,285.67 L378.50,277.26 L378.75,268.75 L379.00,260.19 L379.25,251.60 L379.50,243.02 L379.76,234.49 L380.01,226.05 L380.26,217.73 L380.51,209.57 L380.76,201.61 L381.01,193.86 L381.26,186.38 L381.52,179.18 L381.77,172.29 L382.02,165.75 L382.27,159.56 L382.52,153.76 L382.77,148.35 L383.02,143.36 L383.28,138.79 L383.53,134.66 L383.78,130.96 L384.03,132.65 L384.28,136.93 L384.53,141.72 L384.78,147.01 L385.04,152.79 L385.29,159.04 L385.54,165.75 L385.79,172.88 L386.04,180.41 L386.29,188.30 L386.55,196.53 L386.80,205.05 L387.05,213.82 L387.30,222.81 L387.55,231.96 L387.80,241.24 L388.05,250.59 L388.31,259.98 L388.56,269.34 L388.81,278.65 L389.06,287.84 L389.31,296.88 L389.56,305.73 L389.81,314.32 L390.07,322.64 L390.32,330.64 L390.57,338.28 L390.82,345.53 L391.07,352.36 L391.32,358.75 L391.58,364.68 L391.83,370.11 L392.08,375.05 L392.33,379.48 L392.58,383.39 L392.83,379.43 L393.08,374.97 L393.34,370.04 L393.59,364.62 L393.84,358.74 L394.09,352.42 L394.34,345.66 L394.59,338.49 L394.84,330.94 L395.10,323.04 L395.35,314.80 L395.60,306.27 L395.85,297.48 L396.10,288.47 L396.35,279.26 L396.61,269.91 L396.86,260.45 L397.11,250.92 L397.36,241.36 L397.61,231.82 L397.86,222.34 L398.11,212.95 L398.37,203.70 L398.62,194.62 L398.87,185.76 L399.12,177.15 L399.37,168.83 L399.62,160.82 L399.87,153.16 L400.13,145.88 L400.38,139.00 L400.63,132.54 L400.88,126.53 L401.13,120.98 L401.38,115.90 L401.64,111.30 L401.89,107.19 L402.14,108.92 L402.39,113.43 L402.64,118.49 L402.89,124.07 L403.14,130.18 L403.40,136.78 L403.65,143.86 L403.90,151.39 L404.15,159.34 L404.40,167.68 L404.65,176.37 L404.90,185.36 L405.16,194.63 L405.41,204.12 L405.66,213.78 L405.91,223.58 L406.16,233.46 L406.41,243.37 L406.66,253.26 L406.92,263.08 L407.17,272.79 L407.42,282.34 L407.67,291.67 L407.92,300.75 L408.17,309.54 L408.43,317.98 L408.68,326.05 L408.93,333.71 L409.18,340.92 L409.43,347.67 L409.68,353.93 L409.93,359.67 L410.19,364.88 L410.44,369.56 L410.69,373.69 L410.94,369.93 L411.19,365.70 L411.44,361.01 L411.69,355.88 L411.95,350.30 L412.20,344.30 L412.45,337.88 L412.70,331.08 L412.95,323.92 L413.20,316.42 L413.46,308.61 L413.71,300.51 L413.96,292.17 L414.21,283.62 L414.46,274.88 L414.71,266.01 L414.96,257.03 L415.22,247.99 L415.47,238.92 L415.72,229.87 L415.97,220.87 L416.22,211.96 L416.47,203.18 L416.72,194.57 L416.98,186.16 L417.23,177.99 L417.48,170.10 L417.73,162.50 L417.98,155.23 L418.23,148.32 L418.49,141.79 L418.74,135.67 L418.99,129.96 L419.24,124.69 L419.49,119.87 L419.74,115.51 L419.99,111.61 L420.25,113.33 L420.50,117.75 L420.75,122.69 L421.00,128.15 L421.25,134.12 L421.50,140.58 L421.75,147.50 L422.01,154.86 L422.26,162.63 L422.51,170.78 L422.76,179.28 L423.01,188.07 L423.26,197.13 L423.51,206.41 L423.77,215.86 L424.02,225.43 L424.27,235.09 L424.52,244.78 L424.77,254.45 L425.02,264.06 L425.28,273.55 L425.53,282.88 L425.78,292.01 L426.03,300.89 L426.28,309.48 L426.53,317.73 L426.78,325.62 L427.04,333.11 L427.29,340.16 L427.54,346.76 L427.79,352.87 L428.04,358.49 L428.29,363.59 L428.54,368.16 L428.80,372.19 L429.05,368.68 L429.30,364.74 L429.55,360.37 L429.80,355.57 L430.05,350.37 L430.31,344.76 L430.56,338.78 L430.81,332.43 L431.06,325.75 L431.31,318.74 L431.56,311.45 L431.81,303.90 L432.07,296.11 L432.32,288.13 L432.57,279.98 L432.82,271.70 L433.07,263.32 L433.32,254.88 L433.57,246.42 L433.83,237.97 L434.08,229.57 L434.33,221.25 L434.58,213.06 L434.83,205.02 L435.08,197.17 L435.34,189.55 L435.59,182.18 L435.84,175.08 L436.09,168.30 L436.34,161.85 L436.59,155.76 L436.84,150.04 L437.10,144.72 L437.35,139.80 L437.60,135.30 L437.85,131.23 L438.10,127.59 L438.35,129.52 L438.60,134.14 L438.86,139.33 L439.11,145.06 L439.36,151.31 L439.61,158.08 L439.86,165.34 L440.11,173.06 L440.36,181.21 L440.62,189.76 L440.87,198.66 L441.12,207.88 L441.37,217.38 L441.62,227.11 L441.87,237.01 L442.13,247.06 L442.38,257.18 L442.63,267.34 L442.88,277.48 L443.13,287.55 L443.38,297.51 L443.63,307.29 L443.89,316.86 L444.14,326.17 L444.39,335.17 L444.64,343.83 L444.89,352.10 L445.14,359.95 L445.39,367.35 L445.65,374.26 L445.90,380.68 L446.15,386.56 L446.40,391.91 L446.65,396.70 L446.90,400.93 L447.16,397.12 L447.41,392.85 L447.66,388.10 L447.91,382.90 L448.16,377.25 L448.41,371.17 L448.66,364.67 L448.92,357.79 L449.17,350.53 L449.42,342.93 L449.67,335.02 L449.92,326.83 L450.17,318.38 L450.42,309.71 L450.68,300.87 L450.93,291.88 L451.18,282.79 L451.43,273.63 L451.68,264.45 L451.93,255.28 L452.19,246.17 L452.44,237.14 L452.69,228.25 L452.94,219.53 L453.19,211.02 L453.44,202.74 L453.69,194.74 L453.95,187.05 L454.20,179.69 L454.45,172.69 L454.70,166.08 L454.95,159.88 L455.20,154.10 L455.45,148.76 L455.71,143.88 L455.96,139.46 L456.21,135.51 L456.46,136.93 L456.71,140.89 L456.96,145.33 L457.21,150.23 L457.47,155.59 L457.72,161.38 L457.97,167.59 L458.22,174.20 L458.47,181.17 L458.72,188.48 L458.98,196.10 L459.23,204.00 L459.48,212.12 L459.73,220.45 L459.98,228.93 L460.23,237.52 L460.48,246.19 L460.74,254.88 L460.99,263.56 L461.24,272.18 L461.49,280.70 L461.74,289.07 L461.99,297.26 L462.24,305.23 L462.50,312.93 L462.75,320.34 L463.00,327.42 L463.25,334.14 L463.50,340.47 L463.75,346.38 L464.01,351.87 L464.26,356.91 L464.51,361.48 L464.76,365.58 L465.01,369.21 L465.26,365.62 L465.51,361.59 L465.77,357.13 L466.02,352.23 L466.27,346.91 L466.52,341.19 L466.77,335.08 L467.02,328.60 L467.27,321.77 L467.53,314.62 L467.78,307.17 L468.03,299.46 L468.28,291.51 L468.53,283.35 L468.78,275.03 L469.04,266.57 L469.29,258.01 L469.54,249.40 L469.79,240.75 L470.04,232.12 L470.29,223.54 L470.54,215.05 L470.80,206.69 L471.05,198.48 L471.30,190.46 L471.55,182.68 L471.80,175.15 L472.05,167.90 L472.30,160.98 L472.56,154.39 L472.81,148.17 L473.06,142.33 L473.31,136.89 L473.56,131.87 L473.81,127.27 L474.06,123.11 L474.32,119.40 L474.57,121.07 L474.82,125.33 L475.07,130.09 L475.32,135.36 L475.57,141.12 L475.83,147.34 L476.08,154.02 L476.33,161.12 L476.58,168.61 L476.83,176.47 L477.08,184.66 L477.33,193.15 L477.59,201.88 L477.84,210.83 L478.09,219.94 L478.34,229.18 L478.59,238.49 L478.84,247.83 L479.09,257.16 L479.35,266.42 L479.60,275.58 L479.85,284.58 L480.10,293.38 L480.35,301.94 L480.60,310.22 L480.86,318.18 L481.11,325.79 L481.36,333.01 L481.61,339.81 L481.86,346.17 L482.11,352.07 L482.36,357.48 L482.62,362.40 L482.87,366.81 L483.12,370.70 L483.37,366.91 L483.62,362.65 L483.87,357.92 L484.12,352.74 L484.38,347.11 L484.63,341.06 L484.88,334.59 L485.13,327.74 L485.38,320.51 L485.63,312.95 L485.89,305.07 L486.14,296.90 L486.39,288.49 L486.64,279.86 L486.89,271.06 L487.14,262.11 L487.39,253.05 L487.65,243.94 L487.90,234.79 L488.15,225.66 L488.40,216.58 L488.65,207.60 L488.90,198.75 L489.15,190.06 L489.41,181.58 L489.66,173.34 L489.91,165.38 L490.16,157.71 L490.41,150.39 L490.66,143.42 L490.92,136.83 L491.17,130.65 L491.42,124.90 L491.67,119.59 L491.92,114.73 L492.17,110.33 L492.42,106.39 L492.68,108.34 L492.93,113.13 L493.18,118.49 L493.43,124.41 L493.68,130.88 L493.93,137.88 L494.18,145.38 L494.44,153.36 L494.69,161.79 L494.94,170.63 L495.19,179.84 L495.44,189.37 L495.69,199.19 L495.94,209.25 L496.20,219.50 L496.45,229.88 L496.70,240.35 L496.95,250.85 L497.20,261.34 L497.45,271.75 L497.71,282.05 L497.96,292.16 L498.21,302.06 L498.46,311.68 L498.71,320.99 L498.96,329.94 L499.21,338.50 L499.47,346.61 L499.72,354.26 L499.97,361.41 L500.22,368.04 L500.47,374.13 L500.72,379.66 L500.97,384.61 L501.23,388.99 L501.48,385.13 L501.73,380.80 L501.98,375.99 L502.23,370.73 L502.48,365.01 L502.74,358.85 L502.99,352.27 L503.24,345.30 L503.49,337.95 L503.74,330.26 L503.99,322.25 L504.24,313.95 L504.50,305.39 L504.75,296.62 L505.00,287.66 L505.25,278.56 L505.50,269.36 L505.75,260.09 L506.00,250.79 L506.26,241.50 L506.51,232.27 L506.76,223.14 L507.01,214.13 L507.26,205.30 L507.51,196.68 L507.77,188.30 L508.02,180.20 L508.27,172.41 L508.52,164.96 L508.77,157.87 L509.02,151.18 L509.27,144.89 L509.53,139.04 L509.78,133.64 L510.03,128.69 L510.28,124.22 L510.53,120.22 L510.78,121.78 L511.03,125.98 L511.29,130.68 L511.54,135.88 L511.79,141.56 L512.04,147.70 L512.29,154.29 L512.54,161.30 L512.79,168.69 L513.05,176.45 L513.30,184.53 L513.55,192.90 L513.80,201.52 L514.05,210.34 L514.30,219.33 L514.56,228.45 L514.81,237.64 L515.06,246.85 L515.31,256.06 L515.56,265.20 L515.81,274.23 L516.06,283.11 L516.32,291.79 L516.57,300.24 L516.82,308.41 L517.07,316.27 L517.32,323.77 L517.57,330.90 L517.82,337.61 L518.08,343.89 L518.33,349.70 L518.58,355.05 L518.83,359.90 L519.08,364.25 L519.33,368.09 L519.59,364.50 L519.84,360.48 L520.09,356.01 L520.34,351.11 L520.59,345.80 L520.84,340.07 L521.09,333.96 L521.35,327.48 L521.60,320.65 L521.85,313.50 L522.10,306.05 L522.35,298.34 L522.60,290.39 L522.85,282.23 L523.11,273.91 L523.36,265.45 L523.61,256.89 L523.86,248.28 L524.11,239.63 L524.36,231.00 L524.62,222.43 L524.87,213.93 L525.12,205.57 L525.37,197.36 L525.62,189.34 L525.87,181.56 L526.12,174.03 L526.38,166.78 L526.63,159.86 L526.88,153.27 L527.13,147.05 L527.38,141.21 L527.63,135.77 L527.88,130.75 L528.14,126.15 L528.39,122.00 L528.64,118.28 L528.89,120.14 L529.14,124.70 L529.39,129.81 L529.64,135.45 L529.90,141.61 L530.15,148.28 L530.40,155.43 L530.65,163.03 L530.90,171.06 L531.15,179.48 L531.41,188.25 L531.66,197.33 L531.91,206.69 L532.16,216.27 L532.41,226.03 L532.66,235.92 L532.91,245.90 L533.17,255.90 L533.42,265.89 L533.67,275.81 L533.92,285.62 L534.17,295.26 L534.42,304.68 L534.67,313.85 L534.93,322.72 L535.18,331.25 L535.43,339.39 L535.68,347.13 L535.93,354.41 L536.18,361.23 L536.44,367.54 L536.69,373.34 L536.94,378.61 L537.19,383.33 L537.44,387.50 L537.69,383.66 L537.94,379.35 L538.20,374.57 L538.45,369.33 L538.70,363.64 L538.95,357.52 L539.20,350.98 L539.45,344.05 L539.70,336.74 L539.96,329.09 L540.21,321.12 L540.46,312.87 L540.71,304.36 L540.96,295.64 L541.21,286.73 L541.47,277.68 L541.72,268.53 L541.97,259.31 L542.22,250.06 L542.47,240.83 L542.72,231.65 L542.97,222.56 L543.23,213.61 L543.48,204.83 L543.73,196.25 L543.98,187.92 L544.23,179.86 L544.48,172.11 L544.73,164.70 L544.99,157.66 L545.24,151.00 L545.49,144.75 L545.74,138.93 L545.99,133.56 L546.24,128.64 L546.50,124.19 L546.75,120.22 L547.00,121.87 L547.25,126.21 L547.50,131.07 L547.75,136.43 L548.00,142.30 L548.26,148.65 L548.51,155.45 L548.76,162.69 L549.01,170.33 L549.26,178.34 L549.51,186.68 L549.76,195.33 L550.02,204.23 L550.27,213.35 L550.52,222.64 L550.77,232.05 L551.02,241.54 L551.27,251.07 L551.52,260.57 L551.78,270.02 L552.03,279.35 L552.28,288.52 L552.53,297.49 L552.78,306.22 L553.03,314.65 L553.29,322.77 L553.54,330.52 L553.79,337.88 L554.04,344.82 L554.29,351.30 L554.54,357.31 L554.79,362.83 L555.05,367.84 L555.30,372.33 L555.55,376.30 L555.80,372.28 L556.05,367.77 L556.30,362.76 L556.55,357.28 L556.81,351.32 L557.06,344.91 L557.31,338.06 L557.56,330.80 L557.81,323.15 L558.06,315.13 L558.32,306.79 L558.57,298.14 L558.82,289.23 L559.07,280.10 L559.32,270.77 L559.57,261.29 L559.82,251.70 L560.08,242.05 L560.33,232.36 L560.58,222.69 L560.83,213.08 L561.08,203.56 L561.33,194.19 L561.58,184.99 L561.84,176.01 L562.09,167.28 L562.34,158.85 L562.59,150.73 L562.84,142.97 L563.09,135.59 L563.35,128.62 L563.60,122.07 L563.85,115.98 L564.10,110.35 L564.35,105.20 L564.60,100.54 L564.85,96.38 L565.11,98.24 L565.36,102.98 L565.61,108.29 L565.86,114.15 L566.11,120.57 L566.36,127.50 L566.61,134.94 L566.87,142.84 L567.12,151.19 L567.37,159.95 L567.62,169.07 L567.87,178.52 L568.12,188.25 L568.37,198.21 L568.63,208.37 L568.88,218.65 L569.13,229.03 L569.38,239.43 L569.63,249.82 L569.88,260.14 L570.14,270.34 L570.39,280.36 L570.64,290.17 L570.89,299.71 L571.14,308.93 L571.39,317.80 L571.64,326.27 L571.90,334.31 L572.15,341.89 L572.40,348.98 L572.65,355.55 L572.90,361.58 L573.15,367.05 L573.40,371.96 L573.66,376.30 L573.91,372.75 L574.16,368.77 L574.41,364.35 L574.66,359.50 L574.91,354.24 L575.17,348.58 L575.42,342.53 L575.67,336.11 L575.92,329.36 L576.17,322.28 L576.42,314.91 L576.67,307.28 L576.93,299.41 L577.18,291.34 L577.43,283.10 L577.68,274.73 L577.93,266.26 L578.18,257.74 L578.43,249.18 L578.69,240.64 L578.94,232.15 L579.19,223.75 L579.44,215.47 L579.69,207.35 L579.94,199.42 L580.20,191.71 L580.45,184.26 L580.70,177.09 L580.95,170.24 L581.20,163.72 L581.45,157.56 L581.70,151.78 L581.96,146.40 L582.21,141.43 L582.46,136.89 L582.71,132.77 L582.96,129.09 L583.21,130.66 L583.46,134.74 L583.72,139.31 L583.97,144.36 L584.22,149.88 L584.47,155.85 L584.72,162.25 L584.97,169.05 L585.22,176.24 L585.48,183.77 L585.73,191.62 L585.98,199.75 L586.23,208.13 L586.48,216.70 L586.73,225.44 L586.99,234.29 L587.24,243.22 L587.49,252.17 L587.74,261.11 L587.99,269.99 L588.24,278.77 L588.49,287.40 L588.75,295.83 L589.00,304.04 L589.25,311.98 L589.50,319.61 L589.75,326.90 L590.00,333.82 L590.25,340.34 L590.51,346.44 L590.76,352.09 L591.01,357.28 L591.26,362.00 L591.51,366.22 L591.76,369.95 L592.02,366.34 L592.27,362.28 L592.52,357.79 L592.77,352.85 L593.02,347.50 L593.27,341.73 L593.52,335.57 L593.78,329.04 L594.03,322.17 L594.28,314.96 L594.53,307.46 L594.78,299.69 L595.03,291.68 L595.28,283.46 L595.54,275.08 L595.79,266.55 L596.04,257.93 L596.29,249.25 L596.54,240.54 L596.79,231.85 L597.05,223.21 L597.30,214.65 L597.55,206.22 L597.80,197.95 L598.05,189.88 L598.30,182.03 L598.55,174.45 L598.81,167.15 L599.06,160.17 L599.31,153.54 L599.56,147.27 L599.81,141.39 L600.06,135.91 L600.31,130.85 L600.57,126.22 L600.82,122.03 L601.07,118.29 L601.32,120.19 L601.57,124.82 L601.82,130.01 L602.07,135.75 L602.33,142.02 L602.58,148.79 L602.83,156.06 L603.08,163.79 L603.33,171.95 L603.58,180.51 L603.84,189.43 L604.09,198.66 L604.34,208.17 L604.59,217.91 L604.84,227.83 L605.09,237.89 L605.34,248.03 L605.60,258.20 L605.85,268.36 L606.10,278.44 L606.35,288.41 L606.60,298.21 L606.85,307.79 L607.10,317.11 L607.36,326.13 L607.61,334.79 L607.86,343.08 L608.11,350.94 L608.36,358.34 L608.61,365.27 L608.87,371.69 L609.12,377.59 L609.37,382.94 L609.62,387.74 L609.87,391.98 L610.12,388.13 L610.37,383.81 L610.63,379.02 L610.88,373.76 L611.13,368.06 L611.38,361.92 L611.63,355.36 L611.88,348.41 L612.13,341.08 L612.39,333.41 L612.64,325.42 L612.89,317.14 L613.14,308.61 L613.39,299.86 L613.64,290.93 L613.90,281.86 L614.15,272.67 L614.40,263.43 L614.65,254.15 L614.90,244.90 L615.15,235.69 L615.40,226.58 L615.66,217.60 L615.91,208.80 L616.16,200.20 L616.41,191.84 L616.66,183.76 L616.91,175.99 L617.16,168.56 L617.42,161.50 L617.67,154.82 L617.92,148.55 L618.17,142.72 L618.42,137.33 L618.67,132.40 L618.93,127.94 L619.18,123.95 L619.43,125.60 L619.68,129.94 L619.93,134.80 L620.18,140.17 L620.43,146.03 L620.69,152.38 L620.94,159.18 L621.19,166.42 L621.44,174.06 L621.69,182.07 L621.94,190.42 L622.19,199.06 L622.45,207.97 L622.70,217.08 L622.95,226.37 L623.20,235.79 L623.45,245.28 L623.70,254.80 L623.95,264.31 L624.21,273.75 L624.46,283.08 L624.71,292.25 L624.96,301.22 L625.21,309.95 L625.46,318.39 L625.72,326.50 L625.97,334.25 L626.22,341.61 L626.47,348.55 L626.72,355.03 L626.97,361.04 L627.22,366.56 L627.48,371.57 L627.73,376.06 L627.98,380.03 L628.23,376.38 L628.48,372.27 L628.73,367.72 L628.98,362.73 L629.24,357.31 L629.49,351.47 L629.74,345.25 L629.99,338.64 L630.24,331.68 L630.49,324.39 L630.75,316.80 L631.00,308.93 L631.25,300.83 L631.50,292.52 L631.75,284.03 L632.00,275.41 L632.25,266.69 L632.51,257.90 L632.76,249.09 L633.01,240.30 L633.26,231.55 L633.51,222.90 L633.76,214.37 L634.01,206.00 L634.27,197.83 L634.52,189.89 L634.77,182.22 L635.02,174.83 L635.27,167.77 L635.52,161.06 L635.78,154.72 L636.03,148.76 L636.28,143.22 L636.53,138.10 L636.78,133.42 L637.03,129.18 L637.28,125.39 L637.54,126.90 L637.79,130.94 L638.04,135.46 L638.29,140.45 L638.54,145.91 L638.79,151.82 L639.04,158.15 L639.30,164.88 L639.55,171.99 L639.80,179.44 L640.05,187.20 L640.30,195.25 L640.55,203.53 L640.80,212.01 L641.06,220.65 L641.31,229.41 L641.56,238.24 L641.81,247.10 L642.06,255.95 L642.31,264.73 L642.57,273.41 L642.82,281.94 L643.07,290.29 L643.32,298.41 L643.57,306.26 L643.82,313.81 L644.07,321.02 L644.33,327.87 L644.58,334.32 L644.83,340.35 L645.08,345.94 L645.33,351.08 L645.58,355.74 L645.83,359.92 L646.09,363.61 L646.34,360.16 L646.59,356.29 L646.84,352.00 L647.09,347.29 L647.34,342.18 L647.60,336.68 L647.85,330.80 L648.10,324.57 L648.35,318.01 L648.60,311.13 L648.85,303.97 L649.10,296.56 L649.36,288.92 L649.61,281.08 L649.86,273.07 L650.11,264.94 L650.36,256.72 L650.61,248.43 L650.86,240.12 L651.12,231.83 L651.37,223.58 L651.62,215.42 L651.87,207.38 L652.12,199.48 L652.37,191.78 L652.63,184.29 L652.88,177.06 L653.13,170.09 L653.38,163.44 L653.63,157.10 L653.88,151.12 L654.13,145.51 L654.39,140.28 L654.64,135.45 L654.89,131.04 L655.14,127.04 L655.39,123.47 L655.64,125.26 L655.89,129.65 L656.15,134.56 L656.40,139.99 L656.65,145.93 L656.90,152.35 L657.15,159.23 L657.40,166.55 L657.65,174.28 L657.91,182.38 L658.16,190.83 L658.41,199.57 L658.66,208.58 L658.91,217.80 L659.16,227.20 L659.42,236.72 L659.67,246.33 L659.92,255.96 L660.17,265.57 L660.42,275.13 L660.67,284.57 L660.92,293.84 L661.18,302.92 L661.43,311.75 L661.68,320.28 L661.93,328.49 L662.18,336.34 L662.43,343.78 L662.68,350.80 L662.94,357.35 L663.19,363.43 L663.44,369.02 L663.69,374.09 L663.94,378.63 L664.19,382.64 L664.45,378.97 L664.70,374.85 L664.95,370.28 L665.20,365.26 L665.45,359.82 L665.70,353.96 L665.95,347.71 L666.21,341.07 L666.46,334.08 L666.71,326.76 L666.96,319.13 L667.21,311.23 L667.46,303.09 L667.71,294.75 L667.97,286.22 L668.22,277.56 L668.47,268.80 L668.72,259.98 L668.97,251.13 L669.22,242.30 L669.48,233.51 L669.73,224.82 L669.98,216.25 L670.23,207.85 L670.48,199.64 L670.73,191.67 L670.98,183.96 L671.24,176.55 L671.49,169.46 L671.74,162.71 L671.99,156.34 L672.24,150.36 L672.49,144.80 L672.74,139.65 L673.00,134.95 L673.25,130.69 L673.50,126.89 L673.75,128.48 L674.00,132.64 L674.25,137.30 L674.50,142.45 L674.76,148.08 L675.01,154.17 L675.26,160.69 L675.51,167.64 L675.76,174.96 L676.01,182.65 L676.27,190.66 L676.52,198.95 L676.77,207.49 L677.02,216.24 L677.27,225.15 L677.52,234.18 L677.77,243.29 L678.03,252.42 L678.28,261.54 L678.53,270.60 L678.78,279.55 L679.03,288.35 L679.28,296.96 L679.53,305.33 L679.79,313.43 L680.04,321.21 L680.29,328.65 L680.54,335.71 L680.79,342.36 L681.04,348.58 L681.30,354.35 L681.55,359.64 L681.80,364.45 L682.05,368.76 L682.30,372.57 L682.55,368.92 L682.80,364.82 L683.06,360.27 L683.31,355.29 L683.56,349.88 L683.81,344.05 L684.06,337.83 L684.31,331.23 L684.56,324.28 L684.82,317.00 L685.07,309.42 L685.32,301.57 L685.57,293.48 L685.82,285.18 L686.07,276.71 L686.33,268.10 L686.58,259.39 L686.83,250.62 L687.08,241.82 L687.33,233.04 L687.58,224.30 L687.83,215.66 L688.09,207.14 L688.34,198.79 L688.59,190.63 L688.84,182.70 L689.09,175.04 L689.34,167.67 L689.59,160.62 L689.85,153.91 L690.10,147.58 L690.35,141.64 L690.60,136.10 L690.85,130.99 L691.10,126.31 L691.36,122.08 L691.61,118.30 L691.86,120.00 L692.11,124.34 L692.36,129.20 L692.61,134.57 L692.86,140.43 L693.12,146.78 L693.37,153.58 L693.62,160.82 L693.87,168.46 L694.12,176.47 L694.37,184.82 L694.62,193.46 L694.88,202.37 L695.13,211.48 L695.38,220.77 L695.63,230.19 L695.88,239.68 L696.13,249.20 L696.38,258.71 L696.64,268.15 L696.89,277.48 L697.14,286.65 L697.39,295.62 L697.64,304.35 L697.89,312.79 L698.15,320.90 L698.40,328.66 L698.65,336.01 L698.90,342.95 L699.15,349.43 L699.40,355.44 L699.65,360.96 L699.91,365.97 L700.16,370.46 L700.41,374.43 L700.66,370.55 L700.91,366.20 L701.16,361.37 L701.41,356.07 L701.67,350.32 L701.92,344.13 L702.17,337.51 L702.42,330.50 L702.67,323.11 L702.92,315.38 L703.18,307.32 L703.43,298.98 L703.68,290.37 L703.93,281.55 L704.18,272.55 L704.43,263.40 L704.68,254.14 L704.94,244.82 L705.19,235.47 L705.44,226.13 L705.69,216.85 L705.94,207.66 L706.19,198.61 L706.44,189.73 L706.70,181.06 L706.95,172.63 L707.20,164.49 L707.45,156.65 L707.70,149.16 L707.95,142.04 L708.21,135.30 L708.46,128.99 L708.71,123.10 L708.96,117.67 L709.21,112.70 L709.46,108.20 L709.71,104.18 L709.97,105.84 L710.22,110.22 L710.47,115.12 L710.72,120.54 L710.97,126.45 L711.22,132.85 L711.47,139.72 L711.73,147.02 L711.98,154.72 L712.23,162.80 L712.48,171.22 L712.73,179.94 L712.98,188.92 L713.23,198.12 L713.49,207.49 L713.74,216.99 L713.99,226.56 L714.24,236.17 L714.49,245.76 L714.74,255.28 L715.00,264.69 L715.25,273.94 L715.50,282.99 L715.75,291.79 L716.00,300.31 L716.25,308.49 L716.50,316.31 L716.76,323.74 L717.01,330.73 L717.26,337.27 L717.51,343.33 L717.76,348.90 L718.01,353.95 L718.26,358.49 L718.52,362.49 L718.77,358.92 L719.02,354.91 L719.27,350.46 L719.52,345.59 L719.77,340.30 L720.03,334.60 L720.28,328.51 L720.53,322.06 L720.78,315.26 L721.03,308.15 L721.28,300.73 L721.53,293.05 L721.79,285.14 L722.04,277.02 L722.29,268.73 L722.54,260.31 L722.79,251.79 L723.04,243.21 L723.29,234.61 L723.55,226.02 L723.80,217.48 L724.05,209.02 L724.30,200.69 L724.55,192.52 L724.80,184.54 L725.06,176.79 L725.31,169.29 L725.56,162.08 L725.81,155.19 L726.06,148.63 L726.31,142.44 L726.56,136.62 L726.82,131.21 L727.07,126.21 L727.32,121.63 L727.57,117.50 L727.82,113.80 L728.07,115.64 L728.32,120.17 L728.58,125.24 L728.83,130.84 L729.08,136.96 L729.33,143.59 L729.58,150.69 L729.83,158.24 L730.08,166.21 L730.34,174.57 L730.59,183.28 L730.84,192.30 L731.09,201.59 L731.34,211.11 L731.59,220.80 L731.85,230.62 L732.10,240.53 L732.35,250.47 L732.60,260.39 L732.85,270.24 L733.10,279.98 L733.35,289.55 L733.61,298.91 L733.86,308.02 L734.11,316.82 L734.36,325.29 L734.61,333.38 L734.86,341.06 L735.11,348.30 L735.37,355.06 L735.62,361.34 L735.87,367.09 L736.12,372.32 L736.37,377.01 L736.62,381.15 L736.88,377.58 L737.13,373.57 L737.38,369.13 L737.63,364.25 L737.88,358.96 L738.13,353.26 L738.38,347.18 L738.64,340.73 L738.89,333.93 L739.14,326.81 L739.39,319.39 L739.64,311.71 L739.89,303.80 L740.14,295.68 L740.40,287.39 L740.65,278.97 L740.90,270.45 L741.15,261.87 L741.40,253.27 L741.65,244.68 L741.91,236.14 L742.16,227.69 L742.41,219.36 L742.66,211.18 L742.91,203.21 L743.16,195.45 L743.41,187.96 L743.67,180.75 L743.92,173.85 L744.17,167.29 L744.42,161.10 L744.67,155.29 L744.92,149.87 L745.17,144.87 L745.43,140.30 L745.68,136.16 L745.93,132.46 L746.18,134.12 L746.43,138.36 L746.68,143.11 L746.93,148.35 L747.19,154.08 L747.44,160.28 L747.69,166.92 L747.94,173.99 L748.19,181.45 L748.44,189.28 L748.70,197.43 L748.95,205.88 L749.20,214.57 L749.45,223.48 L749.70,232.55 L749.95,241.75 L750.20,251.02 L750.46,260.32 L750.71,269.61 L750.96,278.83 L751.21,287.94 L751.46,296.90 L751.71,305.67 L751.96,314.19 L752.22,322.43 L752.47,330.36 L752.72,337.93 L752.97,345.12 L753.22,351.89 L753.47,358.23 L753.73,364.10 L753.98,369.49 L754.23,374.38 L754.48,378.77 L754.73,382.64 L754.98,378.93 L755.23,374.76 L755.49,370.13 L755.74,365.06 L755.99,359.56 L756.24,353.63 L756.49,347.30 L756.74,340.59 L756.99,333.51 L757.25,326.11 L757.50,318.39 L757.75,310.40 L758.00,302.17 L758.25,293.72 L758.50,285.10 L758.76,276.34 L759.01,267.48 L759.26,258.55 L759.51,249.60 L759.76,240.66 L760.01,231.78 L760.26,222.98 L760.52,214.32 L760.77,205.82 L761.02,197.52 L761.27,189.45 L761.52,181.65 L761.77,174.15 L762.02,166.98 L762.28,160.16 L762.53,153.71 L762.78,147.66 L763.03,142.03 L763.28,136.83 L763.53,132.07 L763.79,127.76 L764.04,123.91 L764.29,125.50 L764.54,129.68 L764.79,134.37 L765.04,139.54 L765.29,145.19 L765.55,151.31 L765.80,157.87 L766.05,164.84 L766.30,172.20 L766.55,179.92 L766.80,187.97 L767.05,196.30 L767.31,204.88 L767.56,213.66 L767.81,222.62 L768.06,231.69 L768.31,240.84 L768.56,250.01 L768.81,259.17 L769.07,268.27 L769.32,277.26 L769.57,286.11 L769.82,294.75 L770.07,303.16 L770.32,311.29 L770.58,319.11 L770.83,326.58 L771.08,333.68 L771.33,340.36 L771.58,346.61 L771.83,352.40 L772.08,357.72 L772.34,362.55 L772.59,366.88 L772.84,370.70 L773.09,365.95 L773.34,360.48 L773.59,354.30 L773.84,347.44 L774.10,339.92 L774.35,331.77 L774.60,323.04 L774.85,313.77 L775.10,304.02 L775.35,293.85 L775.61,283.32 L775.86,272.49 L776.11,261.44 L776.36,250.23 L776.61,238.96 L776.86,227.68 L777.11,216.48 L777.37,205.43 L777.62,194.60 L777.87,184.06 L778.12,173.89 L778.37,164.14 L778.62,154.87 L778.87,146.14 L779.13,137.99 L779.38,130.46 L779.63,123.60 L779.88,117.42 L780.13,111.95 L780.38,107.20" fill="none" stroke="#1898e0" stroke-width="4.1" stroke-linejoin="round" stroke-linecap="round"/>
<path d="M93.81,275.52 L111.92,271.79 L130.02,266.56 L148.13,263.58 L166.24,263.58 L184.35,263.58 L202.45,268.06 L220.56,251.63 L238.67,250.89 L256.78,256.86 L274.88,257.61 L292.99,250.14 L311.10,249.77 L329.21,253.87 L347.31,248.27 L365.42,251.63 L383.53,253.87 L401.64,252.38 L419.74,249.02 L437.85,252.38 L455.96,249.77 L474.06,245.29 L492.17,244.54 L510.28,238.94 L528.39,246.41 L546.50,246.41 L564.60,241.56 L582.71,250.14 L600.82,251.63 L618.93,246.41 L637.03,244.17 L655.14,245.29 L673.25,245.29 L691.36,247.16 L709.46,235.58 L727.57,253.87 L745.68,246.41 L763.79,241.56" fill="none" stroke="#1898e0" stroke-width="4.1" stroke-dasharray="13.6 4.9" stroke-linejoin="round"/>
<path d="M75.70,179.97 L77.21,171.76 L78.72,186.34 L80.23,214.62 L81.74,246.70 L83.24,279.21 L84.75,272.25 L86.26,278.05 L87.77,265.28 L89.28,242.59 L90.79,220.35 L92.30,190.92 L93.81,171.26 L95.32,164.29 L96.83,181.74 L98.33,223.64 L99.84,261.39 L101.35,293.75 L102.86,305.01 L104.37,299.62 L105.88,287.49 L107.39,265.82 L108.90,233.68 L110.41,198.41 L111.92,178.35 L113.42,170.27 L114.93,191.33 L116.44,224.88 L117.95,261.18 L119.46,291.48 L120.97,302.02 L122.48,282.54 L123.99,289.42 L125.50,272.76 L127.00,239.43 L128.51,211.91 L130.02,194.31 L131.53,187.44 L133.04,210.13 L134.55,238.89 L136.06,284.27 L137.57,325.87 L139.08,314.45 L140.59,323.97 L142.09,303.03 L143.60,268.06 L145.11,227.30 L146.62,180.08 L148.13,148.84 L149.64,137.42 L151.15,164.08 L152.66,213.94 L154.17,261.30 L155.67,302.59 L157.18,316.95 L158.69,311.28 L160.20,298.51 L161.71,275.55 L163.22,247.47 L164.73,210.75 L166.24,183.63 L167.75,175.12 L169.26,192.96 L170.76,226.86 L172.27,256.50 L173.78,283.63 L175.29,293.06 L176.80,267.75 L178.31,276.68 L179.82,250.23 L181.33,216.20 L182.84,175.07 L184.35,153.07 L185.85,144.14 L187.36,164.04 L188.87,204.59 L190.38,250.76 L191.89,297.17 L193.40,288.19 L194.91,295.67 L196.42,279.21 L197.93,255.26 L199.43,219.26 L200.94,183.83 L202.45,157.97 L203.96,148.99 L205.47,167.25 L206.98,193.73 L208.49,234.49 L210.00,263.00 L211.51,272.91 L213.02,266.62 L214.52,252.48 L216.03,222.53 L217.54,187.90 L219.05,149.90 L220.56,125.20 L222.07,115.77 L223.58,138.96 L225.09,184.24 L226.60,229.35 L228.10,267.21 L229.61,280.37 L231.12,257.59 L232.63,265.63 L234.14,243.56 L235.65,214.87 L237.16,174.61 L238.67,154.42 L240.18,146.38 L241.69,166.17 L243.19,200.94 L244.70,246.30 L246.21,279.61 L247.72,291.20 L249.23,267.66 L250.74,275.97 L252.25,252.14 L253.76,214.75 L255.27,181.20 L256.78,161.03 L258.28,152.72 L259.79,173.24 L261.30,203.76 L262.81,235.91 L264.32,263.64 L265.83,273.28 L267.34,267.67 L268.85,255.04 L270.36,228.60 L271.86,200.60 L273.37,160.56 L274.88,141.36 L276.39,132.94 L277.90,153.10 L279.41,196.06 L280.92,234.67 L282.43,268.58 L283.94,280.37 L285.45,260.64 L286.95,267.61 L288.46,245.45 L289.97,217.31 L291.48,193.23 L292.99,171.26 L294.50,164.29 L296.01,183.54 L297.52,212.80 L299.03,245.16 L300.53,272.12 L302.04,281.49 L303.55,275.87 L305.06,263.20 L306.57,236.18 L308.08,205.82 L309.59,176.85 L311.10,149.22 L312.61,140.78 L314.12,155.86 L315.62,183.47 L317.13,207.74 L318.64,236.79 L320.15,230.56 L321.66,235.75 L323.17,224.33 L324.68,212.00 L326.19,180.98 L327.70,161.05 L329.21,140.29 L330.71,134.06 L332.22,153.48 L333.73,196.08 L335.24,240.17 L336.75,275.54 L338.26,287.84 L339.77,258.59 L341.28,268.91 L342.79,240.94 L344.29,196.11 L345.80,158.93 L347.31,126.10 L348.82,115.77 L350.33,129.42 L351.84,165.78 L353.35,195.61 L354.86,230.19 L356.37,222.49 L357.88,228.91 L359.38,214.79 L360.89,195.01 L362.40,167.50 L363.91,134.85 L365.42,110.78 L366.93,103.08 L368.44,118.60 L369.95,161.95 L371.46,209.70 L372.96,245.24 L374.47,257.61 L375.98,252.74 L377.49,241.79 L379.00,224.22 L380.51,190.60 L382.02,166.72 L383.53,143.23 L385.04,135.93 L386.55,153.79 L388.05,184.29 L389.56,225.29 L391.07,255.08 L392.58,265.44 L394.09,242.54 L395.60,250.62 L397.11,224.99 L398.62,199.26 L400.13,156.94 L401.64,138.79 L403.14,130.70 L404.65,153.09 L406.16,193.36 L407.67,234.75 L409.18,280.03 L410.69,271.25 L412.20,278.57 L413.71,262.47 L415.22,236.42 L416.72,207.07 L418.23,170.81 L419.74,143.96 L421.25,135.18 L422.76,156.25 L424.27,191.26 L425.78,225.06 L427.29,255.02 L428.80,265.44 L430.31,260.34 L431.81,248.85 L433.32,227.62 L434.83,201.56 L436.34,166.17 L437.85,145.45 L439.36,137.79 L440.87,155.44 L442.38,188.71 L443.89,224.84 L445.39,253.86 L446.90,263.95 L448.41,239.84 L449.92,248.35 L451.43,218.36 L452.94,190.35 L454.45,154.01 L455.96,130.63 L457.47,122.12 L458.98,137.34 L460.48,182.97 L461.99,221.79 L463.50,265.18 L465.01,256.84 L466.52,263.79 L468.03,248.51 L469.54,229.65 L471.05,190.40 L472.56,156.57 L474.06,136.05 L475.57,127.72 L477.08,148.34 L478.59,186.71 L480.10,224.29 L481.61,256.49 L483.12,267.68 L484.63,263.19 L486.14,253.08 L487.65,232.78 L489.15,204.99 L490.66,184.12 L492.17,162.08 L493.68,155.34 L495.19,165.77 L496.70,197.16 L498.21,233.89 L499.72,260.07 L501.23,269.18 L502.74,248.49 L504.24,255.79 L505.75,232.88 L507.26,206.67 L508.77,179.33 L510.28,154.80 L511.79,147.50 L513.30,168.62 L514.81,194.22 L516.32,235.83 L517.82,274.57 L519.33,268.83 L520.84,273.61 L522.35,263.10 L523.86,250.35 L525.37,223.85 L526.88,204.31 L528.39,185.70 L529.90,179.97 L531.41,190.37 L532.91,220.69 L534.42,251.82 L535.93,275.78 L537.44,284.11 L538.95,278.40 L540.46,265.57 L541.97,244.76 L543.48,213.11 L544.99,172.18 L546.50,150.08 L548.00,141.53 L549.51,161.63 L551.02,193.13 L552.53,226.00 L554.04,254.16 L555.55,263.95 L557.06,243.46 L558.57,250.69 L560.08,228.41 L561.58,197.84 L563.09,170.01 L564.60,150.63 L566.11,143.39 L567.62,158.29 L569.13,178.61 L570.64,211.13 L572.15,240.38 L573.66,233.33 L575.17,239.20 L576.67,226.27 L578.18,210.33 L579.69,185.11 L581.20,153.26 L582.71,131.04 L584.22,123.98 L585.73,141.25 L587.24,179.76 L588.75,212.83 L590.25,242.45 L591.76,252.75 L593.27,247.17 L594.78,234.61 L596.29,215.41 L597.80,181.44 L599.31,144.56 L600.82,121.53 L602.33,113.16 L603.84,132.75 L605.34,163.77 L606.85,198.15 L608.36,226.48 L609.87,236.33 L611.38,214.57 L612.89,222.25 L614.40,195.41 L615.91,165.09 L617.42,136.23 L618.93,115.99 L620.43,108.31 L621.94,120.13 L623.45,149.59 L624.96,180.93 L626.47,205.14 L627.98,213.56 L629.49,196.62 L631.00,202.60 L632.51,188.15 L634.01,166.25 L635.52,141.50 L637.03,119.88 L638.54,113.90 L640.05,124.58 L641.56,157.04 L643.07,191.68 L644.58,217.61 L646.09,226.63 L647.60,205.62 L649.10,213.04 L650.61,186.31 L652.12,167.03 L653.63,130.17 L655.14,110.49 L656.65,103.08 L658.16,122.37 L659.67,159.67 L661.18,204.55 L662.68,238.38 L664.19,250.14 L665.70,230.85 L667.21,237.66 L668.72,218.99 L670.23,186.29 L671.74,166.89 L673.25,143.48 L674.76,136.67 L676.27,149.52 L677.77,175.28 L679.28,207.24 L680.79,230.76 L682.30,238.94 L683.81,222.83 L685.32,228.51 L686.83,207.57 L688.34,187.34 L689.85,163.97 L691.36,149.83 L692.86,144.14 L694.37,172.64 L695.88,206.10 L697.39,239.56 L698.90,268.06 L700.41,258.14 L701.92,250.71 L703.43,244.51 L704.94,234.60 L706.44,218.49 L707.95,170.16 L709.46,155.29 L710.97,144.14 L712.48,172.64 L713.99,206.10 L715.50,239.56 L717.01,268.06 L718.52,258.14 L720.03,250.71 L721.53,244.51 L723.04,234.60 L724.55,218.49 L726.06,170.16 L727.57,155.29 L729.08,144.14 L730.59,172.64 L732.10,206.10 L733.61,239.56 L735.11,268.06 L736.62,258.14 L738.13,250.71 L739.64,244.51 L741.15,234.60 L742.66,218.49 L744.17,170.16 L745.68,155.29 L747.19,144.14 L748.70,172.64 L750.20,206.10 L751.71,239.56 L753.22,268.06 L754.73,258.14 L756.24,250.71 L757.75,244.51 L759.26,234.60 L760.77,218.49 L762.28,170.16 L763.79,155.29 L765.29,144.14 L766.80,172.64 L768.31,206.10 L769.82,239.56 L771.33,268.06 L772.84,258.14 L774.35,250.71 L775.86,244.51 L777.37,234.60 L778.87,218.49 L780.38,169.89" fill="none" stroke="#000" stroke-width="1.25" stroke-linejoin="round"/>
<path d="M75.70,236.70 L93.81,237.82 L111.92,248.27 L130.02,244.17 L148.13,244.54 L166.24,235.96 L184.35,224.01 L202.45,211.70 L220.56,202.37 L238.67,231.48 L256.78,209.83 L274.88,220.28 L292.99,217.67 L311.10,195.65 L329.21,205.72 L347.31,179.97 L365.42,191.17 L383.53,204.98 L401.64,217.67 L419.74,199.38 L437.85,212.07 L455.96,207.59 L474.06,211.32 L492.17,223.27 L510.28,222.52 L528.39,228.87 L546.50,216.55 L564.60,203.86 L582.71,193.78 L600.82,181.09 L618.93,168.77 L637.03,181.09 L655.14,193.78 L673.25,189.67 L691.36,211.70 L709.46,211.70 L727.57,211.70 L745.68,211.70 L763.79,211.70" fill="none" stroke="#000" stroke-width="1.15" stroke-dasharray="4.1 1.8" stroke-linejoin="round"/>
<line x1="40.3" x2="816" y1="425.9" y2="425.9" stroke="#cccccc" stroke-width="1.2"/>
<g stroke="#333" stroke-width="1.1"><line x1="75.70" x2="75.70" y1="426.2" y2="430.6"/><line x1="166.24" x2="166.24" y1="426.2" y2="430.6"/><line x1="256.78" x2="256.78" y1="426.2" y2="430.6"/><line x1="347.31" x2="347.31" y1="426.2" y2="430.6"/><line x1="437.85" x2="437.85" y1="426.2" y2="430.6"/><line x1="528.39" x2="528.39" y1="426.2" y2="430.6"/><line x1="618.93" x2="618.93" y1="426.2" y2="430.6"/><line x1="709.46" x2="709.46" y1="426.2" y2="430.6"/><line x1="800.00" x2="800.00" y1="426.2" y2="430.6"/></g>
<g font-size="13.5px"><text x="35.2" y="379.36" text-anchor="end">0</text><text x="35.2" y="304.71" text-anchor="end">20</text><text x="35.2" y="230.06" text-anchor="end">40</text><text x="35.2" y="155.41" text-anchor="end">60</text><text x="35.2" y="80.76" text-anchor="end">80</text><text x="75.70" y="446.9" text-anchor="middle">1990</text><text x="166.24" y="446.9" text-anchor="middle">1995</text><text x="256.78" y="446.9" text-anchor="middle">2000</text><text x="347.31" y="446.9" text-anchor="middle">2005</text><text x="437.85" y="446.9" text-anchor="middle">2010</text><text x="528.39" y="446.9" text-anchor="middle">2015</text><text x="618.93" y="446.9" text-anchor="middle">2020</text><text x="709.46" y="446.9" text-anchor="middle">2025</text><text x="800.00" y="446.9" text-anchor="middle">2030</text></g>
<text x="41" y="36.8" font-size="13.2px" textLength="56.3" lengthAdjust="spacingAndGlyphs">+1.011e5</text>
<text id="xl" x="413.8" y="464.8" font-size="14px" textLength="28.5" lengthAdjust="spacingAndGlyphs">time</text>
<text id="yl" transform="translate(11.4,322.2) rotate(-90)" font-size="14.6px" textLength="176.7" lengthAdjust="spacingAndGlyphs">Mean sea level pressure [Pa]</text>
<text id="ttl" x="185" y="24" font-size="17.3px" font-weight="bold" textLength="481" lengthAdjust="spacingAndGlyphs" style="fill:#2f4f4f">Time series for msl [Pa] for ece4-tuning EC-EARTH4 pi02</text>
<g id="legend">
<rect x="46.2" y="46.9" width="173" height="69.2" rx="2.5" ry="2.5" fill="#fff" fill-opacity="0.8" stroke="#cccccc" stroke-width="1.1"/>
<line x1="51" x2="74" y1="56.1" y2="56.1" stroke="#1898e0" stroke-width="4.1" stroke-linecap="round"/>
<line x1="50.6" x2="74.1" y1="72.2" y2="72.2" stroke="#1898e0" stroke-width="4.1" stroke-dasharray="13.6 4.9"/>
<line x1="50" x2="74.9" y1="88.7" y2="88.7" stroke="#000" stroke-width="1.1"/>
<line x1="50.6" x2="74" y1="105.2" y2="105.2" stroke="#000" stroke-width="1.3" stroke-dasharray="4.1 1.8"/>
<g font-size="11px">
<text class="lg" x="83.4" y="60.2" textLength="130.9" lengthAdjust="spacingAndGlyphs">EC-EARTH4 pi02 monthly</text>
<text class="lg" x="83.4" y="76.5" textLength="122.4" lengthAdjust="spacingAndGlyphs">EC-EARTH4 pi02 annual</text>
<text class="lg" x="83.4" y="92.6" textLength="100.6" lengthAdjust="spacingAndGlyphs">ERA5 era5 monthly</text>
<text class="lg" x="83.4" y="108.8" textLength="92.1" lengthAdjust="spacingAndGlyphs">ERA5 era5 annual</text>
</g></g>
</svg>
</body></html>
